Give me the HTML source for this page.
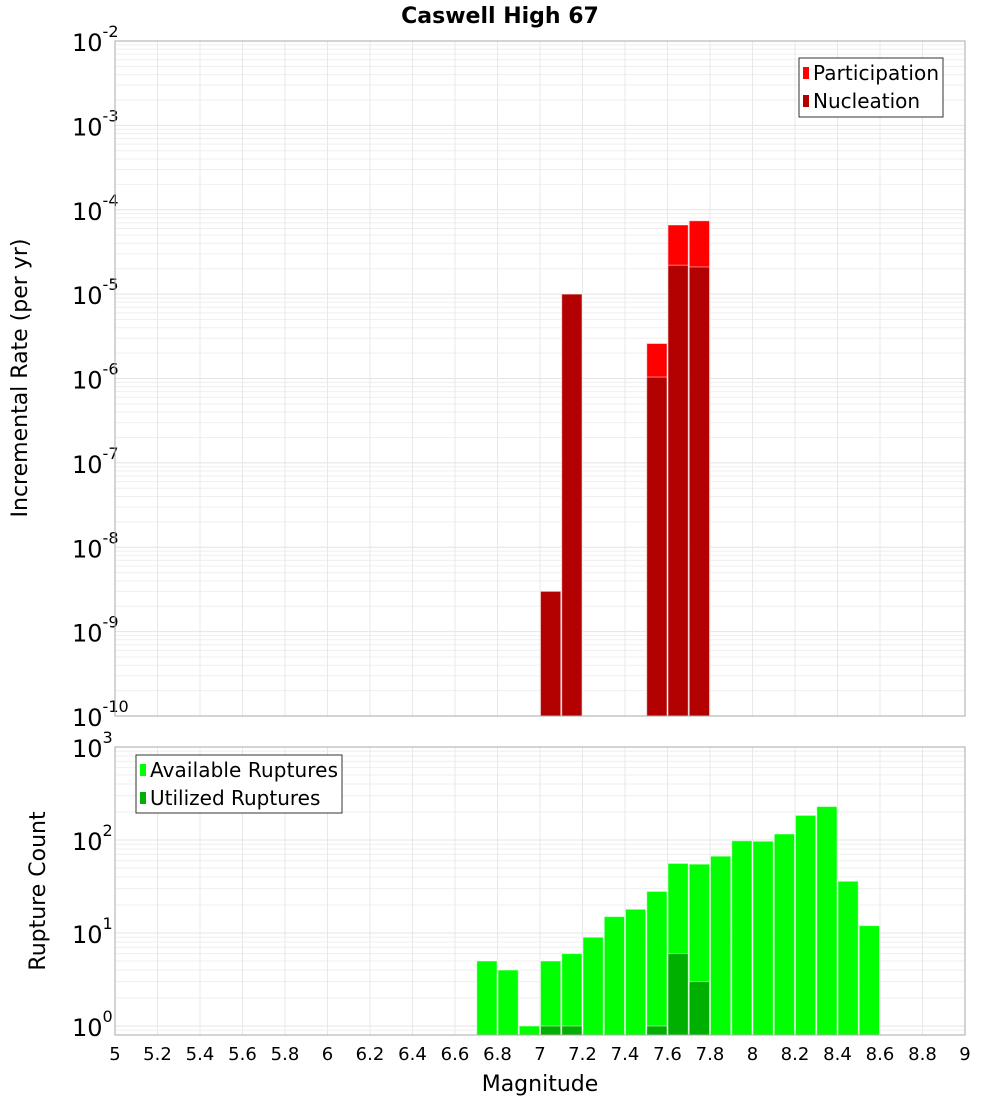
<!DOCTYPE html>
<html><head><meta charset="utf-8"><style>
body{margin:0;background:#fff}
svg text{font-family:"DejaVu Sans","Liberation Sans",sans-serif}
</style></head><body>
<svg id="chart" width="1000" height="1100" xmlns="http://www.w3.org/2000/svg">
<text x="500" y="23" text-anchor="middle" font-size="22" font-weight="bold">Caswell High 67</text>
<g id="topPlot"></g>
<g id="botPlot"></g>
<text transform="translate(27,378) rotate(-90)" text-anchor="middle" font-size="22">Incremental Rate (per yr)</text>
<text transform="translate(45,891) rotate(-90)" text-anchor="middle" font-size="22">Rupture Count</text>
<text x="540" y="1091" text-anchor="middle" font-size="22">Magnitude</text>
<g>
<rect x="799" y="58" width="144" height="59" fill="#fff" stroke="#333" stroke-width="1"/>
<rect x="803" y="67" width="6" height="12" fill="#ff0000"/>
<text x="813" y="80" font-size="20" textLength="126">Participation</text>
<rect x="803" y="95" width="6" height="12" fill="#b30000"/>
<text x="813" y="108" font-size="20">Nucleation</text>
</g>
<g>
<rect x="136" y="755" width="206" height="58" fill="#fff" stroke="#333" stroke-width="1"/>
<rect x="140" y="764" width="6" height="12" fill="#00ff00"/>
<text x="150" y="777" font-size="20" textLength="188">Available Ruptures</text>
<rect x="140" y="792" width="6" height="12" fill="#00b000"/>
<text x="150" y="805" font-size="20">Utilized Ruptures</text>
</g>
</svg>
<script>
const xTicks=[5,5.2,5.4,5.6,5.8,6,6.2,6.4,6.6,6.8,7,7.2,7.4,7.6,7.8,8,8.2,8.4,8.6,8.8,9];
const rateMags=[7.05,7.15,7.55,7.65,7.75];
const participation=[3.0e-9,1.0e-5,2.6e-6,6.6e-5,7.4e-5];
const nucleation=[3.0e-9,1.0e-5,1.04e-6,2.2e-5,2.1e-5];
const countMags=[6.75,6.85,6.95,7.05,7.15,7.25,7.35,7.45,7.55,7.65,7.75,7.85,7.95,8.05,8.15,8.25,8.35,8.45,8.55];
const available=[5,4,1,5,6,9,15,18,28,56,55,67,98,97,116,184,229,36,12];
const utilizedMags=[7.05,7.15,7.55,7.65,7.75];
const utilized=[1,1,1,6,3];
const rateExp=[-2,-3,-4,-5,-6,-7,-8,-9,-10];
const countExp=[3,2,1,0];

const NS="http://www.w3.org/2000/svg";
const X0=115,X1=965;
const xs=m=>X0+(m-5)/4*(X1-X0);
function mk(p,t,a){const e=document.createElementNS(NS,t);for(const k in a)e.setAttribute(k,a[k]);p.appendChild(e);return e;}
const ysTop=v=>41+(-2-Math.log10(v))*84.375;
const ysBot=v=>747+(3-Math.log10(v))*93;

function panel(g,y0,y1,ys,lo,hi,exps,name){
  mk(g,'rect',{x:X0,y:y0,width:X1-X0,height:y1-y0,fill:'#fff'});
  for(let e=lo;e<hi;e++)for(let k=1;k<10;k++){const y=ys(k*Math.pow(10,e));if(y<y0||y>y1)continue;
    const l=mk(g,'line',{x1:X0,x2:X1,y1:y,y2:y,stroke:k==1?'#e4e4e4':'#efefef','stroke-width':1});
    
    }
  xTicks.forEach(t=>{const x=xs(t);const l=mk(g,'line',{x1:x,x2:x,y1:y0,y2:y1,stroke:'#e8e8e8'});
    
    });
  exps.forEach(e=>{const y=ys(Math.pow(10,e));const t=mk(g,'text',{x:72,y:y+10,'font-size':24});
    
    
    t.textContent='10';const s=mk(t,'tspan',{dy:-14,'font-size':16});s.textContent=String(e);});
}
function bars(g,mags,vals,ys,base,color,name){
  mags.forEach((m,i)=>{const x=xs(m-0.05),w=xs(m+0.05)-x,y=ys(vals[i]);
    const r=mk(g,'rect',{x:x+0.5,y:y,width:w-1,height:base-y,fill:color,stroke:'#fff','stroke-opacity':0.5,'stroke-width':1});
    
    });
}
const gTop=document.getElementById('topPlot'),gBot=document.getElementById('botPlot');
panel(gTop,41,716,ysTop,-10,-2,rateExp,'rate');
bars(gTop,rateMags,participation,ysTop,716,'#ff0000','participation-bar');
bars(gTop,rateMags,nucleation,ysTop,716,'#b30000','nucleation-bar');
mk(gTop,'rect',{x:X0,y:41,width:X1-X0,height:675,fill:'none',stroke:'#aaa'});
panel(gBot,747,1035,ysBot,-1,3,countExp,'count');
bars(gBot,countMags,available,ysBot,1035,'#00ff00','available-bar');
bars(gBot,utilizedMags,utilized,ysBot,1035,'#00b000','utilized-bar');
mk(gBot,'rect',{x:X0,y:747,width:X1-X0,height:288,fill:'none',stroke:'#aaa'});
xTicks.forEach(t=>{const e=mk(gBot,'text',{x:xs(t),y:1060,'text-anchor':'middle','font-size':18});
  
  
  e.textContent=String(t);});
</script>
</body></html>
